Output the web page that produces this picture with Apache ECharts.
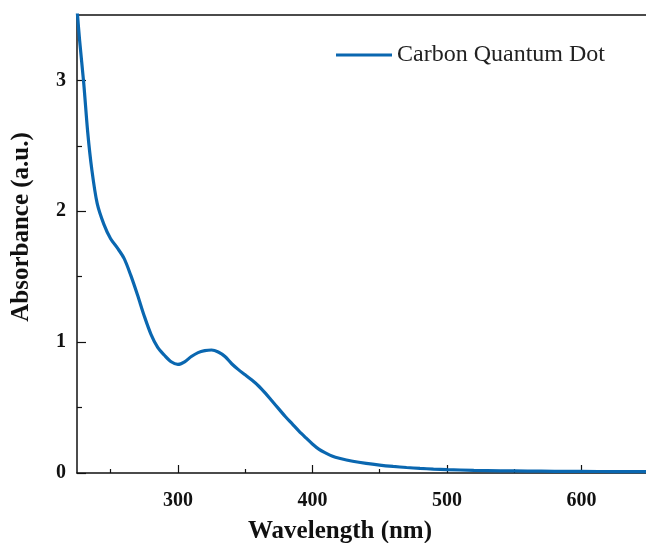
<!DOCTYPE html>
<html>
<head>
<meta charset="utf-8">
<script src="https://cdn.jsdelivr.net/npm/echarts@6/dist/echarts.min.js"></script>
<style>html,body{margin:0;padding:0;background:#fff;}#c{width:646px;height:543px;}</style>
</head>
<body>
<div id="c"></div>
<script>
const wavelength = [225,227,230,233,236,240,245,250,255,260,265,270,275,280,285,290,295,300,305,310,315,320,325,330,335,340,345,350,355,360,365,370,375,380,385,390,395,400,405,410,415,420,430,440,450,460,470,480,490,500,520,540,560,580,600,625,648];
const absorbance = [3.55,3.3,2.98,2.6,2.32,2.06,1.9,1.79,1.72,1.64,1.51,1.36,1.2,1.06,0.96,0.9,0.85,0.83,0.85,0.89,0.92,0.935,0.94,0.925,0.89,0.835,0.79,0.75,0.71,0.665,0.61,0.55,0.49,0.43,0.375,0.32,0.27,0.222,0.18,0.152,0.128,0.113,0.09,0.073,0.06,0.05,0.042,0.035,0.03,0.026,0.02,0.017,0.015,0.013,0.012,0.011,0.01];
const xMajorTicks = [300,400,500,600];
const xMinorTicks = [250,350,450,550];
const yMajorTicks = [0,1,2,3];
const yMinorTicks = [0.5,1.5,2.5];
const seriesName = 'Carbon Quantum Dot';
const xTitle = 'Wavelength (nm)';
const yTitle = 'Absorbance (a.u.)';

const font = '"Liberation Serif","Times New Roman",serif';
const lineColor = '#0a67b0';
const chart = echarts.init(document.getElementById('c'));
chart.setOption({
  animation: false,
  grid: {left: 77, right: 0, top: 15, bottom: 70},
  legend: {
    left: 336, top: 43, padding: 0, itemWidth: 56, itemHeight: 14, itemGap: 0,
    textStyle: {fontFamily: font, fontSize: 24, color: '#222', padding: [0,0,0,0]},
    data: [{name: seriesName, icon: 'path://M0,0 L56,0 L56,3 L0,3 Z'}]
  },
  graphic: [
    {type: 'text', left: 342 - 94, top: 519, style: {text: xTitle, font: 'bold 25px ' + font, fill: '#111'}},
    {type: 'text', x: 22, y: 227, rotation: Math.PI / 2,
     style: {text: yTitle, font: 'bold 25px ' + font, fill: '#111', align: 'center', verticalAlign: 'middle'}}
  ],
  xAxis: [
    {type: 'value', min: 225, max: 648, position: 'bottom',
     axisLine: {show: true, lineStyle: {color: '#111', width: 1.5}},
     axisTick: {show: true, inside: true, length: 8, customValues: xMajorTicks, lineStyle: {color: '#111', width: 1.2}},
     axisLabel: {customValues: xMajorTicks, margin: 18, fontFamily: font, fontSize: 20, fontWeight: 'bold', color: '#111'},
     splitLine: {show: false}},
    {type: 'value', min: 225, max: 648, position: 'bottom',
     axisLine: {show: false},
     axisTick: {show: true, inside: true, length: 4, customValues: xMinorTicks, lineStyle: {color: '#111', width: 1.2}},
     axisLabel: {show: false}, splitLine: {show: false}},
    {type: 'value', min: 225, max: 648, position: 'top',
     axisLine: {show: true, lineStyle: {color: '#111', width: 1.5}},
     axisTick: {show: false}, axisLabel: {show: false}, splitLine: {show: false}}
  ],
  yAxis: [
    {type: 'value', min: 0, max: 3.5, position: 'left',
     axisLine: {show: true, lineStyle: {color: '#111', width: 1.5}},
     axisTick: {show: true, inside: true, length: 9, customValues: yMajorTicks, lineStyle: {color: '#111', width: 1.2}},
     axisLabel: {customValues: yMajorTicks, margin: 11, fontFamily: font, fontSize: 20, fontWeight: 'bold', color: '#111'},
     splitLine: {show: false}},
    {type: 'value', min: 0, max: 3.5, position: 'left',
     axisLine: {show: false},
     axisTick: {show: true, inside: true, length: 5, customValues: yMinorTicks, lineStyle: {color: '#111', width: 1.2}},
     axisLabel: {show: false}, splitLine: {show: false}}
  ],
  series: [{
    name: seriesName, type: 'line', xAxisIndex: 0, yAxisIndex: 0,
    data: wavelength.map((w, i) => [w, absorbance[i]]),
    showSymbol: false, symbol: 'none', smooth: 0.3,
    lineStyle: {color: lineColor, width: 3.2}, itemStyle: {color: lineColor},
    clip: true
  }]
});
</script>
</body>
</html>
